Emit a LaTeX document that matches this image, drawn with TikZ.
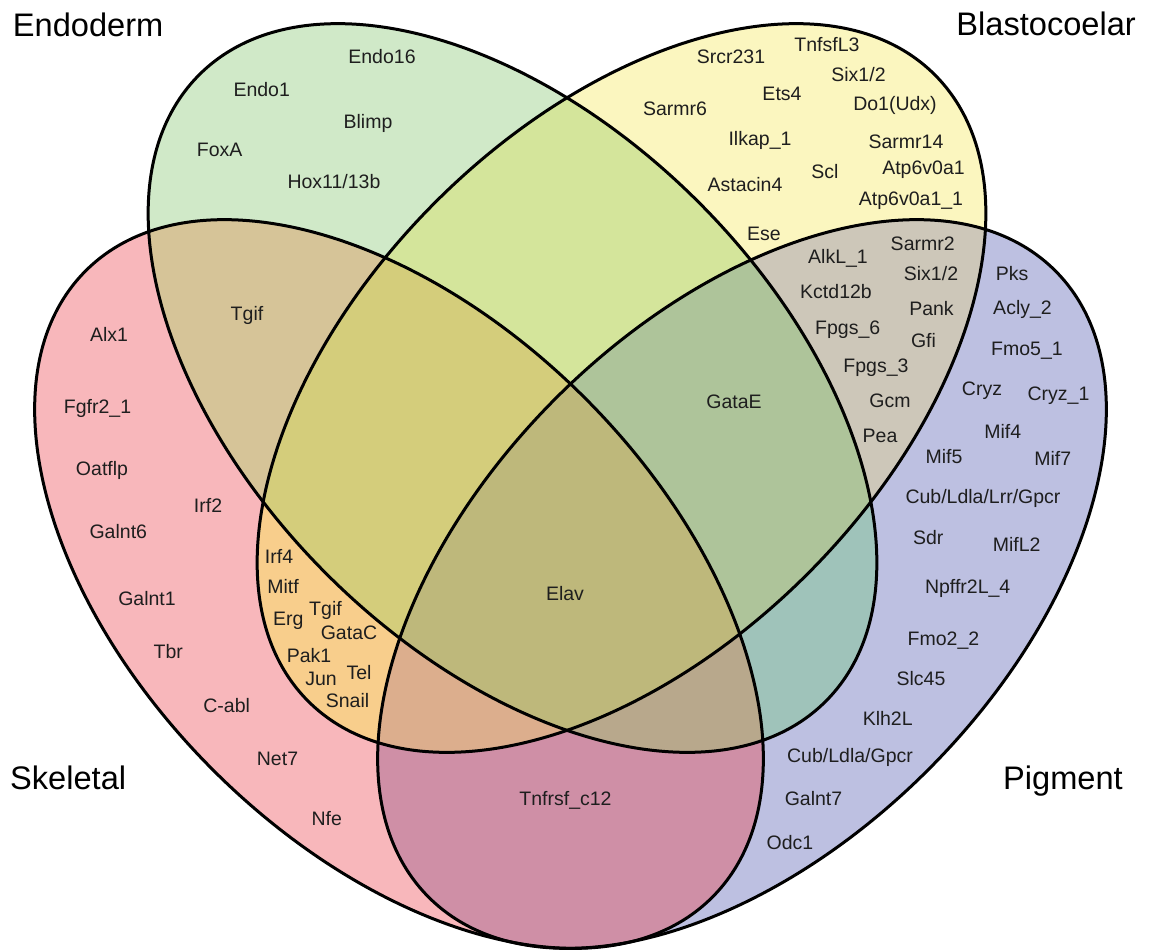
\documentclass[tikz,border=0pt]{standalone}
\usepackage{fontspec}
\setmainfont{Liberation Sans}
\begin{document}
\begin{tikzpicture}[x=1pt,y=-1pt]
% region colours (one per combination of sets)
\definecolor{cG}{RGB}{208,233,200}
\definecolor{cY}{RGB}{251,246,191}
\definecolor{cP}{RGB}{248,183,187}
\definecolor{cB}{RGB}{189,192,225}
\definecolor{cGY}{RGB}{212,229,155}
\definecolor{cGP}{RGB}{214,196,152}
\definecolor{cGB}{RGB}{159,195,186}
\definecolor{cYP}{RGB}{248,206,140}
\definecolor{cYB}{RGB}{205,199,185}
\definecolor{cPB}{RGB}{207,143,166}
\definecolor{cGYP}{RGB}{212,205,123}
\definecolor{cGYB}{RGB}{174,196,154}
\definecolor{cGPB}{RGB}{184,168,140}
\definecolor{cYPB}{RGB}{220,174,141}
\definecolor{cGYPB}{RGB}{190,184,123}
\definecolor{labcol}{RGB}{30,30,30}
\tikzset{
  trG/.style={rotate around={-45:(512.5,388)}},
  trY/.style={rotate around={45:(621.5,388)}},
  trP/.style={rotate around={-45:(399,584)}},
  trB/.style={rotate around={45:(742,584)}},
  outline/.style={draw=black, line width=3pt},
  lab/.style={font=\fontsize{19.5}{22}\selectfont, text=labcol, inner sep=0pt, anchor=base},
  ttl/.style={font=\fontsize{32.6}{38}\selectfont, text=black, inner sep=0pt}
}
\newcommand\clipG{\clip[trG] (512.5,388) ellipse [x radius=443pt, y radius=263pt];}
\newcommand\clipY{\clip[trY] (621.5,388) ellipse [x radius=443pt, y radius=263pt];}
\newcommand\clipP{\clip[trP] (399,584) ellipse [x radius=443pt, y radius=263pt];}
\newcommand\clipB{\clip[trB] (742,584) ellipse [x radius=443pt, y radius=263pt];}
\newcommand\paint[1]{\fill[#1] (0,0) rectangle (1149,951);}

\useasboundingbox (0,0) rectangle (1149,951);
\fill[white] (0,0) rectangle (1149,951);

% single sets
\begin{scope}\clipG\paint{cG}\end{scope}
\begin{scope}\clipY\paint{cY}\end{scope}
\begin{scope}\clipP\paint{cP}\end{scope}
\begin{scope}\clipB\paint{cB}\end{scope}
% pairs
\begin{scope}\clipG\clipY\paint{cGY}\end{scope}
\begin{scope}\clipG\clipP\paint{cGP}\end{scope}
\begin{scope}\clipG\clipB\paint{cGB}\end{scope}
\begin{scope}\clipY\clipP\paint{cYP}\end{scope}
\begin{scope}\clipY\clipB\paint{cYB}\end{scope}
\begin{scope}\clipP\clipB\paint{cPB}\end{scope}
% triples
\begin{scope}\clipG\clipY\clipP\paint{cGYP}\end{scope}
\begin{scope}\clipG\clipY\clipB\paint{cGYB}\end{scope}
\begin{scope}\clipG\clipP\clipB\paint{cGPB}\end{scope}
\begin{scope}\clipY\clipP\clipB\paint{cYPB}\end{scope}
% all four
\begin{scope}\clipG\clipY\clipP\clipB\paint{cGYPB}\end{scope}

% outlines
\draw[outline, trG] (512.5,388) ellipse [x radius=443pt, y radius=263pt];
\draw[outline, trY] (621.5,388) ellipse [x radius=443pt, y radius=263pt];
\draw[outline, trP] (399,584) ellipse [x radius=443pt, y radius=263pt];
\draw[outline, trB] (742,584) ellipse [x radius=443pt, y radius=263pt];

% set names
\node[ttl, anchor=base west] (tEndo) at (12.7,36) {Endoderm};
\node[ttl, anchor=base east] (tBlast) at (1136,35) {Blastocoelar};
\node[ttl, anchor=base west] (tSkel) at (10,789) {Skeletal};
\node[ttl, anchor=base east] (tPigm) at (1123,789) {Pigment};

% Endoderm only
\node[lab] (g1) at (382,63) {Endo16};
\node[lab] (g2) at (261.7,96.7) {Endo1};
\node[lab] (g3) at (368,128.3) {Blimp};
\node[lab] (g4) at (219.7,156.7) {FoxA};
\node[lab] (g5) at (334,188.3) {Hox11/13b};

% Blastocoelar only
\node[lab] (y1) at (731,63.3) {Srcr231};
\node[lab] (y2) at (827,51.7) {TnfsfL3};
\node[lab] (y3) at (858.5,81.7) {Six1/2};
\node[lab] (y4) at (782,100) {Ets4};
\node[lab] (y5) at (675,115) {Sarmr6};
\node[lab] (y6) at (895,110) {Do1(Udx)};
\node[lab] (y7) at (760,145) {Ilkap\_1};
\node[lab] (y8) at (906,148) {Sarmr14};
\node[lab] (y9) at (825,178.3) {Scl};
\node[lab] (y10) at (923.5,174) {Atp6v0a1};
\node[lab] (y11) at (745,191.7) {Astacin4};
\node[lab] (y12) at (911,205) {Atp6v0a1\_1};
\node[lab] (y13) at (764,240) {Ese};

% Blastocoelar and Pigment
\node[lab] (yb1) at (922.7,250) {Sarmr2};
\node[lab] (yb2) at (838,263.3) {AlkL\_1};
\node[lab] (yb3) at (931,280) {Six1/2};
\node[lab] (yb4) at (836,298.3) {Kctd12b};
\node[lab] (yb5) at (931.5,315) {Pank};
\node[lab] (yb6) at (847.7,334) {Fpgs\_6};
\node[lab] (yb7) at (923.5,347) {Gfi};
\node[lab] (yb8) at (876,372) {Fpgs\_3};
\node[lab] (yb9) at (890,407) {Gcm};
\node[lab] (yb10) at (880,442) {Pea};

% Pigment only
\node[lab] (b1) at (1012,280) {Pks};
\node[lab] (b2) at (1022.5,314) {Acly\_2};
\node[lab] (b3) at (1027,355) {Fmo5\_1};
\node[lab] (b4) at (982,395) {Cryz};
\node[lab] (b5) at (1058.5,400) {Cryz\_1};
\node[lab] (b6) at (1002.7,438.7) {Mif4};
\node[lab] (b7) at (944,463.7) {Mif5};
\node[lab] (b8) at (1052.7,465.3) {Mif7};
\node[lab] (b9) at (983,503.3) {Cub/Ldla/Lrr/Gpcr};
\node[lab] (b10) at (928.3,544) {Sdr};
\node[lab] (b11) at (1016.7,551.7) {MifL2};
\node[lab] (b12) at (967.7,593.7) {Npffr2L\_4};
\node[lab] (b13) at (943.5,645) {Fmo2\_2};
\node[lab] (b14) at (921,685.7) {Slc45};
\node[lab] (b15) at (887.7,725.7) {Klh2L};
\node[lab] (b16) at (850,762.3) {Cub/Ldla/Gpcr};
\node[lab] (b17) at (813.5,805.7) {Galnt7};
\node[lab] (b18) at (790,849) {Odc1};

% shared regions
\node[lab] (gyb1) at (734,408.7) {GataE};
\node[lab] (all1) at (565,600.3) {Elav};
\node[lab] (pb1) at (565.5,805.7) {Tnfrsf\_c12};
\node[lab] (gp1) at (247,320) {Tgif};

% Skeletal only
\node[lab] (p1) at (109,341) {Alx1};
\node[lab] (p2) at (97.5,413.7) {Fgfr2\_1};
\node[lab] (p3) at (102,475.3) {Oatflp};
\node[lab] (p4) at (208,512) {Irf2};
\node[lab] (p5) at (118.3,538.7) {Galnt6};
\node[lab] (p6) at (147,605.3) {Galnt1};
\node[lab] (p7) at (168.3,658) {Tbr};
\node[lab] (p8) at (226.7,712.3) {C-abl};
\node[lab] (p9) at (277.5,765.7) {Net7};
\node[lab] (p10) at (326.7,825.7) {Nfe};

% Skeletal and Blastocoelar
\node[lab] (yp1) at (279,563.7) {Irf4};
\node[lab] (yp2) at (283,593) {Mitf};
\node[lab] (yp3) at (325.5,615) {Tgif};
\node[lab] (yp4) at (288.3,625) {Erg};
\node[lab] (yp5) at (349,639) {GataC};
\node[lab] (yp6) at (309,662.3) {Pak1};
\node[lab] (yp7) at (359,679) {Tel};
\node[lab] (yp8) at (321,685.7) {Jun};
\node[lab] (yp9) at (347.5,707.3) {Snail};
\end{tikzpicture}
\end{document}
